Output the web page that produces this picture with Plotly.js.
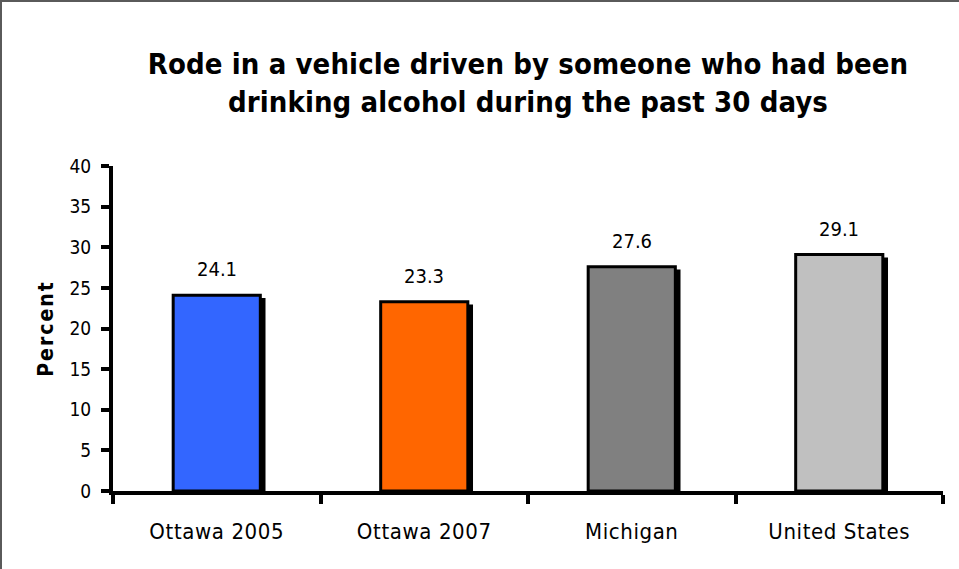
<!DOCTYPE html>
<html>
<head>
<meta charset="utf-8">
<script src="https://cdn.plot.ly/plotly-3.0.1.min.js"></script>
<style>
  html, body { margin: 0; padding: 0; background: #fff; }
  #wrap { position: relative; width: 959px; height: 569px; }
  #chart { width: 959px; height: 569px; }
  #frame { position: absolute; left: 0; top: 0; width: 959px; height: 569px; box-sizing: border-box;
           border-top: 2px solid #5a5a5a; border-left: 2px solid #5a5a5a; pointer-events: none; }
  .gtitle { letter-spacing: 0.1px; }
  .ytitle { letter-spacing: 2px; }
  .xtick text { letter-spacing: 0.6px; }
</style>
</head>
<body>
<div id="wrap">
  <div id="chart"></div>
  <div id="frame"></div>
</div>
<script>
const categories = ["Ottawa 2005", "Ottawa 2007", "Michigan", "United States"];
const values = [24.1, 23.3, 27.6, 29.1];
const barColors = ["#3366FF", "#FF6600", "#808080", "#C0C0C0"];
const yTicks = [0, 5, 10, 15, 20, 25, 30, 35, 40];
const titleText = "Rode in a vehicle driven by someone who had been<br>drinking alcohol during the past 30 days";
const yTitle = "Percent";

const FONT = '"DejaVu Sans Condensed", "Liberation Sans Narrow", "Arial Narrow", sans-serif';
const BW = 0.42;

const shadow = {
  type: "bar",
  x: categories,
  y: values.map(v => v - 0.35),
  width: BW,
  offset: -BW / 2 + 0.025,
  marker: { color: "#000000", line: { width: 0 } },
  hoverinfo: "skip",
  showlegend: false
};
const bars = {
  type: "bar",
  x: categories,
  y: values,
  width: BW,
  offset: -BW / 2,
  marker: { color: barColors, line: { color: "#000000", width: 3 } },
  showlegend: false
};

const annotations = categories.map((c, i) => ({
  x: c, y: values[i], xref: "x", yref: "y",
  text: values[i].toFixed(1), showarrow: false,
  yanchor: "bottom", yshift: 12,
  font: { family: FONT, size: 20, color: "#000" }
}));

const layout = {
  width: 959, height: 569,
  paper_bgcolor: "#ffffff", plot_bgcolor: "#ffffff",
  margin: { l: 113, r: 16, t: 166, b: 78 },
  barmode: "overlay",
  title: {
    text: titleText,
    font: { family: FONT, size: 29, color: "#000", weight: "bold" },
    x: 0.5, xref: "paper", xanchor: "center",
    y: 1 - 74 / 569, yref: "container", yanchor: "top"
  },
  xaxis: {
    type: "category",
    range: [-0.5, 3.5],
    tickson: "boundaries",
    ticks: "outside", ticklen: 9, tickwidth: 4, tickcolor: "#000",
    showline: true, linecolor: "#000", linewidth: 4,
    showgrid: false, zeroline: false,
    ticklabelstandoff: 18,
    tickfont: { family: FONT, size: 22, color: "#000" }
  },
  yaxis: {
    range: [0, 40],
    tickvals: yTicks,
    ticktext: yTicks.map(String),
    ticks: "outside", ticklen: 8, tickwidth: 4, tickcolor: "#000",
    showline: true, linecolor: "#000", linewidth: 4,
    showgrid: false, zeroline: false,
    ticklabelstandoff: 6,
    tickfont: { family: FONT, size: 19, color: "#000" },
    title: { text: yTitle, font: { family: FONT, size: 21, color: "#000", weight: "bold" }, standoff: 11 }
  },
  annotations: annotations
};

Plotly.newPlot("chart", [shadow, bars], layout, { staticPlot: true, displayModeBar: false });
</script>
</body>
</html>
